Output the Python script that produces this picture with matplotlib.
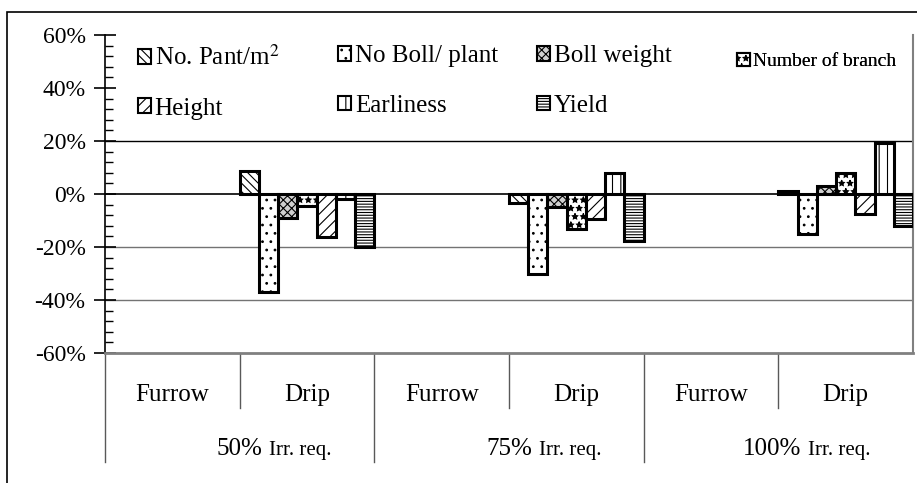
import numpy as np
import matplotlib
matplotlib.use('Agg')
import matplotlib.pyplot as plt
from matplotlib.patches import Patch, Rectangle
from matplotlib.ticker import MultipleLocator, FuncFormatter

# --- data (change of drip relative to furrow, fraction) ---
levels = ['50%', '75%', '100%']
methods = ['Furrow', 'Drip']
traits = ['No. Pant/m$^2$', 'No Boll/ plant', 'Boll weight', 'Number of branch',
          'Height', 'Earliness', 'Yield']

no_plant = [0.085, -0.034, 0.010]
no_boll = [-0.370, -0.300, -0.152]
boll_weight = [-0.090, -0.050, 0.030]
branches = [-0.047, -0.133, 0.078]
height = [-0.162, -0.095, -0.075]
earliness = [-0.018, 0.080, 0.194]
yield_ = [-0.200, -0.176, -0.120]

series = [no_plant, no_boll, boll_weight, branches, height, earliness, yield_]
hatches = ['\\\\\\\\', '..', 'xxxx', '**', '///', '||', '------']
faces = ['white', 'white', '#d0d0d0', 'white', 'white', 'white', 'white']

plt.rcParams['font.family'] = ['Liberation Serif', 'DejaVu Serif']
plt.rcParams['mathtext.fontset'] = 'stix'
plt.rcParams['hatch.linewidth'] = 0.8

fig = plt.figure(figsize=(9.17, 4.83), dpi=100)
ax = fig.add_axes([105 / 917, 1 - 353 / 483, 808 / 917, 318 / 483])

# outer chart frame
fig.patches.append(Rectangle((7 / 917, -0.1), 1.2, 1.1 - 12 / 483, transform=fig.transFigure,
                             fill=False, edgecolor='black', lw=1.2))

n_cat = len(levels) * len(methods)
drip_x = np.arange(len(levels)) * 2 + 1
w = 1 / len(series)
for i, vals in enumerate(series):
    ax.bar(drip_x + (i - 3) * w, vals, width=w, color=faces[i], edgecolor='black',
           hatch=hatches[i], linewidth=2.2, zorder=3)

ax.set_xlim(-0.5, n_cat - 0.5)
ax.set_ylim(-0.6, 0.6)

# gridlines and zero line
for g in [0.2, -0.2, -0.4]:
    ax.axhline(g, color='0.45' if g < 0 else 'black', lw=1, zorder=1)
ax.axhline(0, color='black', lw=1.2, zorder=4)

ax.yaxis.set_major_locator(MultipleLocator(0.2))
ax.yaxis.set_minor_locator(MultipleLocator(0.04))
ax.yaxis.set_major_formatter(FuncFormatter(lambda v, p: f'{v * 100:.0f}%'))
ax.tick_params(axis='y', which='major', direction='inout', length=16, width=1.2,
               labelsize=17, pad=6)
ax.tick_params(axis='y', which='minor', direction='in', length=6, width=1)
ax.set_xticks([])

ax.spines['top'].set_visible(False)
ax.spines['right'].set_color('0.5')
ax.spines['bottom'].set_color('0.5')
ax.spines['right'].set_linewidth(1.5)
ax.spines['bottom'].set_linewidth(2)
ax.spines['left'].set_linewidth(1.2)

# two level category axis
tr = ax.get_xaxis_transform()
for k in range(n_cat):
    ax.text(k, -0.152, methods[k % 2], transform=tr, ha='center', va='baseline', fontsize=18)
for k in range(n_cat):
    x = k - 0.5
    bottom = -0.343 if k % 2 == 0 else -0.173
    ax.plot([x, x], [0, bottom], transform=tr, color='0.35', lw=1, clip_on=False)
for j, lev in enumerate(levels):
    cx = 2 * j + 0.5
    ax.text(cx + 0.17, -0.322, lev, transform=tr, ha='right', va='baseline', fontsize=18)
    ax.text(cx + 0.22, -0.322, 'Irr. req.', transform=tr, ha='left', va='baseline', fontsize=15)

# legend, laid out as 4 columns in 2 rows
handles = [Patch(facecolor=faces[i], edgecolor='black', hatch=hatches[i], lw=1.5)
           for i in range(len(series))]
cols = [[0, 4], [1, 5], [2, 6], [3]]
col_x = [0.0408, 0.2884, 0.5347, 0.7822]
for c, idx in enumerate(cols):
    fs = 14 if c == 3 else 18
    leg = ax.legend([handles[i] for i in idx], [traits[i] for i in idx],
                    loc='upper left', bbox_to_anchor=(col_x[c], 0.968 if c < 3 else 0.944),
                    frameon=False, fontsize=fs, borderpad=0, borderaxespad=0,
                    handlelength=13 / (fs * 100 / 72), handleheight=13 / (fs * 100 / 72),
                    handletextpad=0.15, labelspacing=1.1)
    ax.add_artist(leg)

fig.savefig('out.png', dpi=100)
